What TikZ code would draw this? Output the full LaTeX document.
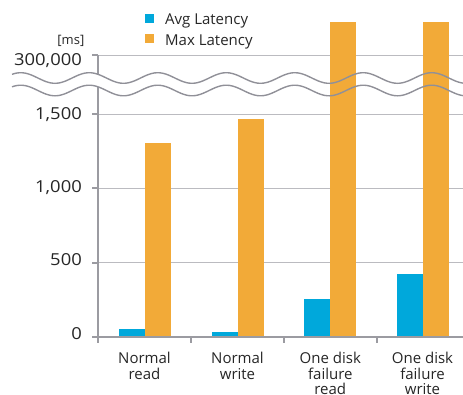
\documentclass[tikz,border=0pt]{standalone}
\usepackage{fontspec}
\setmainfont{Open Sans}
\newfontfamily\tickfont[FakeStretch=1.115]{Open Sans}
\definecolor{avgc}{HTML}{00A8DB}
\definecolor{maxc}{HTML}{F2AA38}
\definecolor{axisc}{HTML}{9B9BA1}
\definecolor{gridc}{HTML}{BBBBC0}
\definecolor{wavec}{HTML}{909098}
\definecolor{txtc}{HTML}{262626}
\begin{document}
\begin{tikzpicture}[x=1pt,y=-1pt,
  txt/.style={text=txtc, inner sep=0pt},
  catlabel/.style={txt, font=\fontsize{15}{15.3}\selectfont, align=center, anchor=base},
  ticklabel/.style={txt, font=\tickfont\fontsize{16.5}{18}\selectfont, anchor=base east},
  legendtext/.style={txt, font=\fontsize{15}{18}\selectfont, anchor=base west},
  gridline/.style={draw=gridc, line width=1pt},
  axisline/.style={draw=axisc, line width=2.3pt},
  waveline/.style={draw=wavec, line width=1.4pt},
  avgbar/.style={fill=avgc},
  maxbar/.style={fill=maxc}]
\useasboundingbox (0,0) rectangle (463,394);
% gridlines
\foreach \y in {55,114,188.3,262.7} {
  \draw[gridline] (98,\y) -- (463,\y);
  \draw[axisline] (92,\y) -- (98.3,\y);
}
% vertical axis
\draw[axisline] (98.3,55) -- (98.3,343);
% white break band
\fill[white] plot[domain=12:463, samples=200] (\x,{78+5.3*cos(5.2555*(\x-55))})
  -- plot[domain=463:12, samples=200] (\x,{90.5+5.3*cos(5.2555*(\x-55))}) -- cycle;
% bars
\foreach \c/\b/\o in {144.5/329.3/142.7, 237.5/332/119, 330.3/299.3/22, 422.5/274.3/22} {
  \fill[avgbar] (\c-26,337.3) rectangle (\c,\b);
  \fill[maxbar] (\c,337.3) rectangle (\c+26,\o);
}
% x axis
\draw[axisline] (92,337.3) -- (463,337.3);
\foreach \x in {191,284,376.7} {
  \draw[axisline] (\x,337.3) -- (\x,343);
}
% break waves
\draw[waveline] plot[domain=12:463, samples=200] (\x,{78+5.3*cos(5.2555*(\x-55))});
\draw[waveline] plot[domain=12:463, samples=200] (\x,{90.5+5.3*cos(5.2555*(\x-55))});
% tick labels
\node[ticklabel] (t300k) at (82,65) {300,000};
\node[ticklabel] (t1500) at (82,119) {1,500};
\node[ticklabel] (t1000) at (82,192.3) {1,000};
\node[ticklabel] (t500) at (82,265.7) {500};
\node[ticklabel] (t0) at (82,339.3) {0};
\node[txt, font=\fontsize{13}{15}\selectfont, anchor=base east] (unit) at (84.5,44) {[ms]};
% legend
\fill[avgc] (145,14.3) rectangle (154,23.3);
\fill[maxc] (145,34.3) rectangle (154,43.3);
\node[legendtext] (lavg) at (165,24) {Avg Latency};
\node[legendtext] (lmax) at (165,45) {Max Latency};
% category labels (base = baseline of the last line)
\node[catlabel] (c1) at (144.5,379) {Normal\\read};
\node[catlabel] (c2) at (237.5,379) {Normal\\write};
\node[catlabel] (c3) at (330.3,394.3) {One disk\\failure\\read};
\node[catlabel] (c4) at (422.5,394.3) {One disk\\failure\\write};
\end{tikzpicture}
\end{document}
